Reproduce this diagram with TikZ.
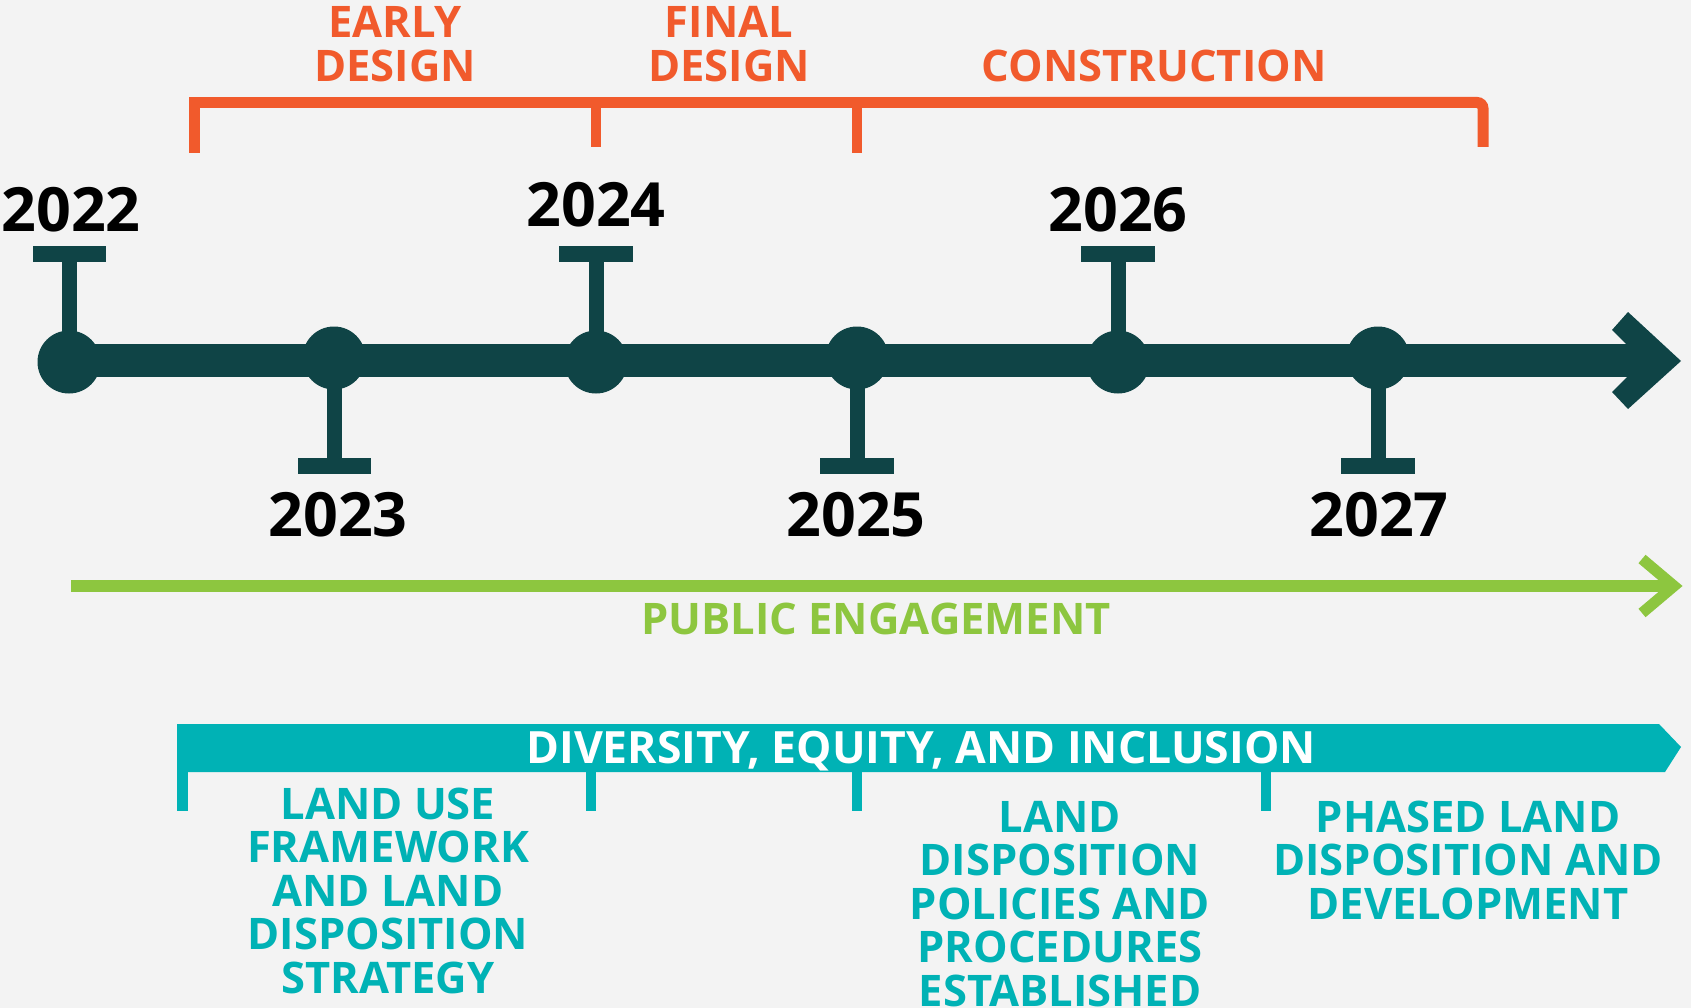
\documentclass[tikz,border=0pt]{standalone}
\usepackage{fontspec}
\setmainfont{Open Sans}
\definecolor{bgc}{HTML}{F3F3F3}
\definecolor{darkc}{HTML}{0F4446}
\definecolor{orngc}{HTML}{F15A2C}
\definecolor{grnc}{HTML}{8DC63F}
\definecolor{tealc}{HTML}{00B2B5}
\begin{document}
\begin{tikzpicture}[x=1pt,y=-1pt,
  dot/.style={circle,fill=darkc,minimum size=63pt,inner sep=0pt},
  yearlbl/.style={font=\fontsize{61}{61}\selectfont\bfseries,text=black,anchor=base,inner sep=0pt},
  phase/.style={font=\fontsize{43.5}{44}\selectfont\bfseries,text=orngc,anchor=base,align=center,inner sep=0pt},
  tlabel/.style={font=\fontsize{43.5}{43.5}\selectfont\bfseries,text=tealc,anchor=base,align=center,inner sep=0pt},
  stem/.style={draw=darkc,line width=15pt},
  obar/.style={draw=orngc,line width=11pt},
  otick/.style={draw=orngc,line width=10pt}
  ]
\fill[bgc] (0,0) rectangle (1691,1008);
\useasboundingbox (0,0) rectangle (1691,1008);

% orange bracket
\draw[obar,line join=miter] (194,153) -- (194,102.5) -- (1000,102.5);
\draw[obar,rounded corners=6pt] (990,102.5) -- (1483,102.5) -- (1483,147);
\draw[otick] (595.5,102) -- (595.5,147);
\draw[otick] (856.5,102) -- (856.5,153);

\node[phase] (early) at (395,82) {EARLY\\DESIGN};
\node[phase] (final) at (729,82) {FINAL\\DESIGN};
\node[phase] (constr) at (1154,82) {CONSTRUCTION};

% main line
\coordinate (lineend) at (1645,360.5);
\coordinate (l0) at (69,360.5);
\draw[darkc,line width=33pt] (l0) -- (lineend);
\fill[darkc] (1628,312) -- (1681,361) -- (1628,409) -- (1612,392) -- (1643,361) -- (1612,330) -- cycle;

% circles
\node[dot] (c2022) at (69,362) {};
\node[dot] (c2023) at (334,358) {};
\node[dot] (c2024) at (596,362) {};
\node[dot] (c2025) at (857,358) {};
\node[dot] (c2026) at (1118,362) {};
\node[dot] (c2027) at (1378,358) {};

% up markers
\coordinate (t2022) at (69,258);
\coordinate (t2024) at (596,258);
\coordinate (t2026) at (1118,258);
\draw[stem] (c2022.center) -- (t2022);
\draw[stem] (c2024.center) -- (t2024);
\draw[stem] (c2026.center) -- (t2026);
\fill[darkc] (33,246) rectangle (106,262);
\fill[darkc] (559,246) rectangle (633,262);
\fill[darkc] (1081,246) rectangle (1155,262);

% down markers
\coordinate (t2023) at (334,462);
\coordinate (t2025) at (857,462);
\coordinate (t2027) at (1378,462);
\draw[stem] (c2023.center) -- (t2023);
\draw[stem] (c2025.center) -- (t2025);
\draw[stem] (c2027.center) -- (t2027);
\fill[darkc] (298,458) rectangle (371,474);
\fill[darkc] (820,458) rectangle (894,474);
\fill[darkc] (1341,458) rectangle (1415,474);

% years
\node[yearlbl] (y2022) at (71,232) {2022};
\node[yearlbl] (y2024) at (596,227) {2024};
\node[yearlbl] (y2026) at (1118,232) {2026};
\node[yearlbl] (y2023) at (338,536) {2023};
\node[yearlbl] (y2025) at (856,536) {2025};
\node[yearlbl] (y2027) at (1379,536) {2027};

% public engagement
\coordinate (g0) at (71,586);
\coordinate (g1) at (1672,586);
\draw[grnc,line width=12pt] (g0) -- (g1);
\draw[grnc,line width=11pt,line join=miter] (1642,559) -- (1674,586) -- (1642,613);
\node[font=\fontsize{43.5}{43.5}\selectfont\bfseries,text=grnc,anchor=base,inner sep=0pt] (pe) at (876,634) {PUBLIC ENGAGEMENT};

% DEI band
\fill[tealc] (177,724) -- (1659,724) -- (1681,747) -- (1665,772) -- (177,772) -- cycle;
\fill[tealc] (177,760) rectangle (188,811);
\fill[tealc] (585.5,760) rectangle (595.5,811);
\fill[tealc] (851.5,760) rectangle (861.5,811);
\fill[tealc] (1261,760) rectangle (1271,811);
\node[font=\fontsize{44.5}{44.5}\selectfont\bfseries,text=white,anchor=base,inner sep=0pt] (dei) at (921,763) {DIVERSITY, EQUITY, AND INCLUSION};

\node[tlabel] (lu) at (388,993) {LAND USE\\FRAMEWORK\\AND LAND\\DISPOSITION\\STRATEGY};
\node[tlabel] (ld) at (1060,1006) {LAND\\DISPOSITION\\POLICIES AND\\PROCEDURES\\ESTABLISHED};
\node[tlabel] (pl) at (1468,919) {PHASED LAND\\DISPOSITION AND\\DEVELOPMENT};
\end{tikzpicture}
\end{document}
